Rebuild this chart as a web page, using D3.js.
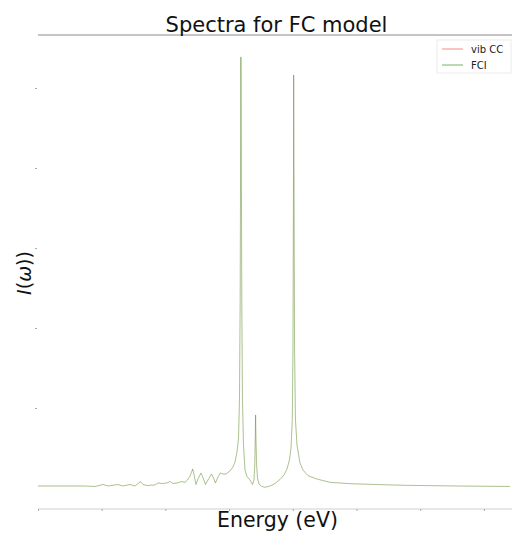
<!DOCTYPE html>
<html><head><meta charset="utf-8">
<script src="https://cdn.jsdelivr.net/npm/d3@7"></script>
<style>body{margin:0;background:#fff}svg{display:block}</style>
</head><body><div id="chart"></div>
<script>
const title = "Spectra for FC model";
const xLabel = "Energy (eV)";
const seriesNames = ["vib CC", "FCI"];
const xTicks = [0,1,2,3,4,5,6,7];
const yTicks = [0,1,2,3,4,5];
const energy = [0.000,0.345,0.738,0.895,1.021,1.099,1.256,1.334,1.444,1.523,1.609,1.648,1.711,1.837,1.884,1.947,2.025,2.072,2.119,2.182,2.261,2.308,2.347,2.386,2.429,2.457,2.480,2.512,2.559,2.598,2.630,2.669,2.724,2.755,2.786,2.826,2.865,2.904,2.951,3.014,3.061,3.093,3.124,3.148,3.163,3.174,3.181,3.185,3.192,3.199,3.210,3.226,3.250,3.281,3.328,3.367,3.391,3.403,3.411,3.416,3.422,3.432,3.446,3.469,3.516,3.564,3.642,3.721,3.799,3.862,3.909,3.948,3.972,3.992,4.003,4.010,4.014,4.020,4.028,4.042,4.066,4.113,4.160,4.239,4.375,4.584,4.898,5.212,5.730,6.578,7.410];
const vibCC = [0.025,0.025,0.025,0.019,0.044,0.025,0.044,0.025,0.044,0.025,0.081,0.044,0.031,0.038,0.063,0.056,0.063,0.081,0.056,0.063,0.081,0.069,0.100,0.150,0.238,0.138,0.044,0.113,0.188,0.113,0.044,0.100,0.175,0.125,0.063,0.138,0.188,0.175,0.175,0.213,0.263,0.325,0.450,0.625,1.100,2.350,4.225,5.388,4.225,2.350,1.100,0.538,0.225,0.144,0.100,0.044,0.100,0.288,0.600,0.913,0.600,0.288,0.125,0.050,0.019,0.009,0.025,0.056,0.106,0.163,0.238,0.350,0.500,0.850,1.725,3.600,5.163,3.600,1.725,0.850,0.538,0.313,0.225,0.154,0.113,0.071,0.054,0.046,0.034,0.025,0.019];
const fci = [0.025,0.025,0.025,0.019,0.044,0.025,0.044,0.025,0.044,0.025,0.081,0.044,0.031,0.038,0.063,0.056,0.063,0.081,0.056,0.063,0.081,0.069,0.100,0.150,0.238,0.138,0.044,0.113,0.188,0.113,0.044,0.100,0.175,0.125,0.063,0.138,0.188,0.175,0.175,0.213,0.263,0.325,0.450,0.625,1.100,2.350,4.225,5.388,4.225,2.350,1.100,0.538,0.225,0.144,0.100,0.044,0.100,0.288,0.600,0.913,0.600,0.288,0.125,0.050,0.019,0.009,0.025,0.056,0.106,0.163,0.238,0.350,0.500,0.850,1.725,3.600,5.163,3.600,1.725,0.850,0.538,0.313,0.225,0.154,0.113,0.071,0.054,0.046,0.034,0.025,0.019];
const colors = ["#ee5a5a", "#3c961e"];

const W = 512, H = 535;
const m = {left: 38, right: 2, top: 35, bottom: 26};
const svg = d3.select("#chart").append("svg").attr("width", W).attr("height", H);
const x = d3.scaleLinear().domain([0, 7.41]).range([m.left, W - m.right]);
const y = d3.scaleLinear().domain([-0.2625, 5.6625]).range([H - m.bottom, m.top]);

// spines
svg.append("line").attr("x1", m.left).attr("x2", W).attr("y1", m.top).attr("y2", m.top)
  .attr("stroke", "#8a8a8a").attr("stroke-width", 1);
svg.append("line").attr("x1", m.left).attr("x2", W).attr("y1", H - m.bottom).attr("y2", H - m.bottom)
  .attr("stroke", "#cfcfcf").attr("stroke-width", 1);

// axes (tiny ticks, no labels)
const xAxis = svg.append("g").attr("transform", `translate(0,${H - m.bottom})`)
  .call(d3.axisBottom(x).tickValues(xTicks).tickSize(2).tickFormat(""));
xAxis.select(".domain").remove();
xAxis.selectAll("line").attr("stroke", "#aaa");
const yAxis = svg.append("g").attr("transform", `translate(${m.left - 1},0)`)
  .call(d3.axisLeft(y).tickValues(yTicks.slice(1)).tickSize(2).tickFormat(""));
yAxis.select(".domain").remove();
yAxis.selectAll("line").attr("stroke", "#aaa");

const line = d3.line().x((d, i) => x(energy[i])).y(d => y(d));
[vibCC, fci].forEach((s, k) => {
  svg.append("path").datum(s).attr("d", line).attr("fill", "none")
    .attr("stroke", colors[k]).attr("stroke-width", 0.6)
    .attr("stroke-opacity", k === 0 ? 0.25 : 0.7);
});

// title and labels
svg.append("text").attr("x", 276.5).attr("y", 32).attr("text-anchor", "middle")
  .attr("font-family", "DejaVu Sans").attr("font-size", 21).attr("fill", "#111").text(title);
svg.append("text").attr("x", 277.5).attr("y", 527).attr("text-anchor", "middle")
  .attr("font-family", "DejaVu Sans").attr("font-size", 20.5).attr("fill", "#111").text(xLabel);
const yl = svg.append("text").attr("transform", "translate(31,273) rotate(-90)").attr("text-anchor", "middle")
  .attr("font-family", "DejaVu Sans").attr("font-size", 19).attr("fill", "#111");
yl.append("tspan").attr("font-style", "italic").text("I");
yl.append("tspan").text("(");
yl.append("tspan").attr("font-style", "italic").text("ω");
yl.append("tspan").text("))");

// legend
const lg = svg.append("g").attr("transform", "translate(437,40)");
lg.append("rect").attr("width", 74).attr("height", 33).attr("fill", "#fff").attr("stroke", "#ececec");
seriesNames.forEach((n, i) => {
  lg.append("line").attr("x1", 5).attr("x2", 26).attr("y1", 9 + i * 16).attr("y2", 9 + i * 16)
    .attr("stroke", colors[i]).attr("stroke-width", 1).attr("stroke-opacity", 0.7);
  lg.append("text").attr("x", 34).attr("y", 12.5 + i * 16).attr("font-family", "DejaVu Sans")
    .attr("font-size", 10).attr("fill", "#222").text(n);
});
</script></body></html>
